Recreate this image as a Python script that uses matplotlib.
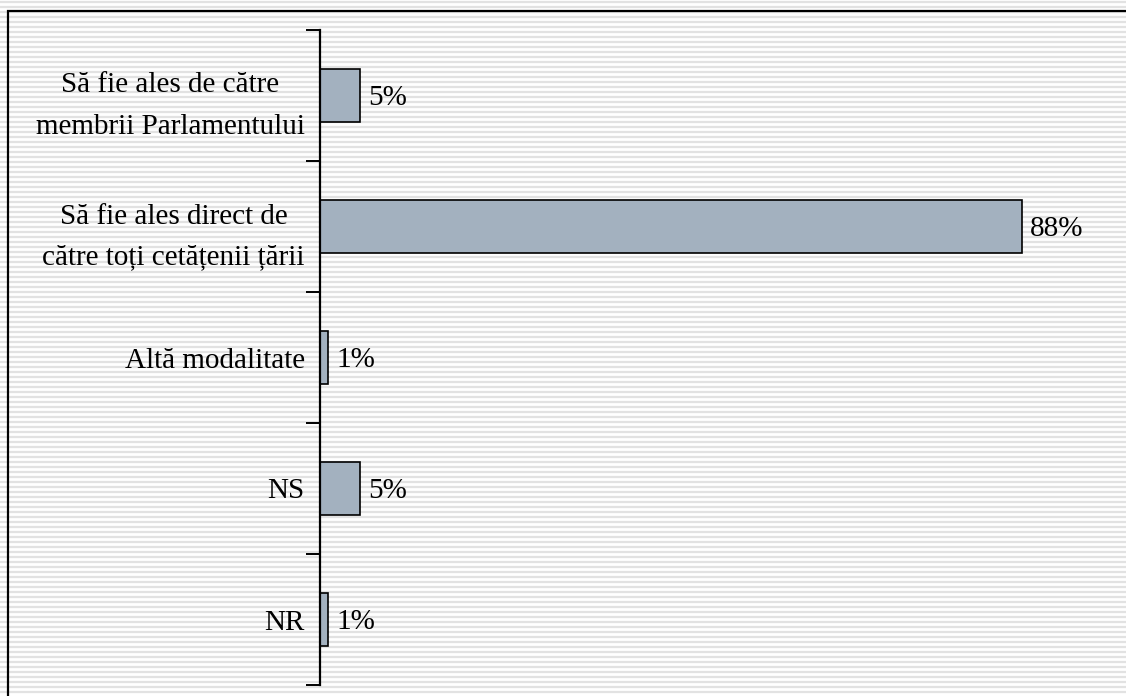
import matplotlib.pyplot as plt
from matplotlib.patches import Rectangle

categorii = ['Să fie ales de către\nmembrii Parlamentului',
             'Să fie ales direct de\ncătre toți cetățenii țării',
             'Altă modalitate', 'NS', 'NR']
procente = [5, 88, 1, 5, 1]

plt.rcParams['font.family'] = ['Liberation Serif', 'DejaVu Serif']

W, H = 1126, 696
fig = plt.figure(figsize=(W / 100, H / 100), dpi=100)
fig.patch.set_facecolor('white')

# dungi gri pe fundal
y = 2.0
while y < H:
    fig.add_artist(plt.Line2D([0, 1], [1 - y / H, 1 - y / H], color='#e2e2e2',
                              lw=1.6, zorder=0))
    y += 5.0

# rama neagra
fig.add_artist(Rectangle((8 / W, -0.05), 1.2, 1 - 11 / H + 0.05, fill=False,
                         edgecolor='black', lw=1.6, zorder=1))

ax = fig.add_axes([320 / W, 1 - 685 / H, 1 - 320 / W, (685 - 30) / H])
ax.patch.set_alpha(0)
poz = list(range(len(categorii)))
ax.barh(poz, procente, height=0.4, color='#a3b1bf', edgecolor='black', lw=1.2)
for p, v in zip(poz, procente):
    ax.text(v + 1.0, p + 0.02, f'{v}%', va='center', ha='left', fontsize=21)

ax.set_xlim(0, (W - 320) / 7.98)
ax.set_ylim(len(categorii) - 0.5, -0.5)
ax.set_yticks(poz)
ax.set_yticklabels(categorii, fontsize=21, linespacing=1.75)
for lab in ax.get_yticklabels():
    lab.set_multialignment('center')
ax.set_yticks([i - 0.5 for i in range(len(categorii) + 1)], minor=True)
ax.tick_params(axis='y', which='major', length=0, pad=11)
ax.tick_params(axis='y', which='minor', length=10, width=1.4, direction='out')
ax.set_xticks([])
for s in ['top', 'right', 'bottom']:
    ax.spines[s].set_visible(False)
ax.spines['left'].set_linewidth(1.6)

fig.savefig('out.png', dpi=100)
